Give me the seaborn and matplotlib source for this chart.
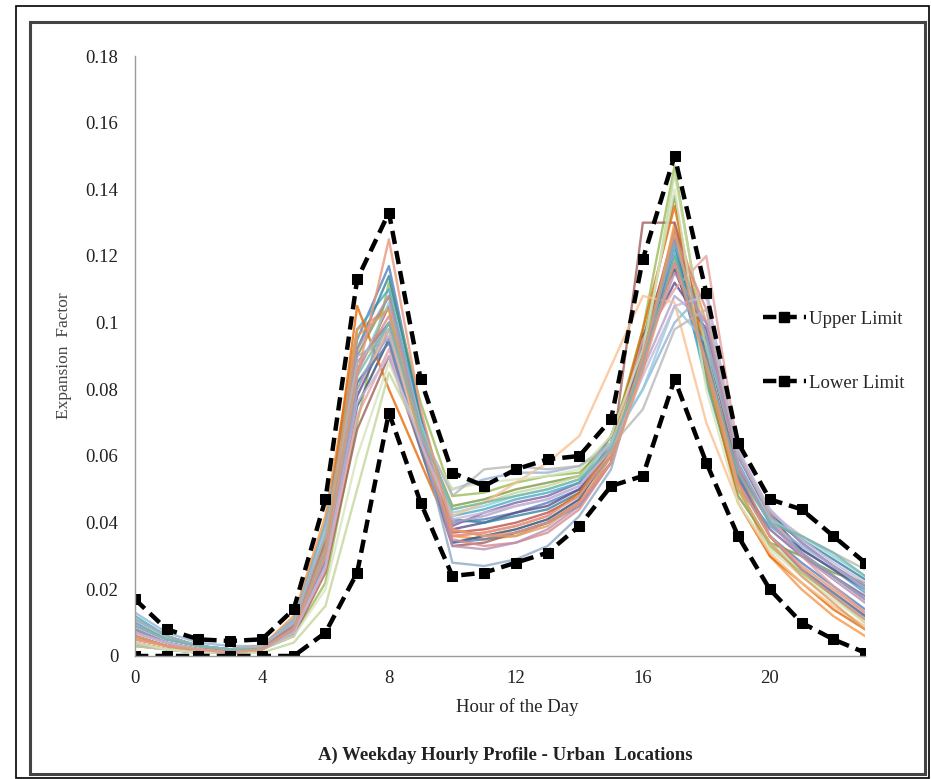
import pandas as pd
import matplotlib.pyplot as plt
import seaborn as sns
from matplotlib.patches import Rectangle
from matplotlib.lines import Line2D

hours = list(range(24))

upper_limit = [0.017, 0.008, 0.005, 0.0045, 0.005, 0.014, 0.047, 0.113, 0.133, 0.083, 0.055, 0.051,
               0.056, 0.059, 0.060, 0.071, 0.119, 0.150, 0.109, 0.064, 0.047, 0.044, 0.036, 0.028]
lower_limit = [0.0, 0.0, 0.0, 0.0, 0.0, 0.0, 0.007, 0.025, 0.073, 0.046, 0.024, 0.025,
               0.028, 0.031, 0.039, 0.051, 0.054, 0.083, 0.058, 0.036, 0.020, 0.010, 0.005, 0.001]

# hourly expansion factors for each urban count site
site_01 = [0.010, 0.005, 0.003, 0.002, 0.003, 0.010, 0.036, 0.095, 0.117, 0.072, 0.040, 0.041, 0.043, 0.046, 0.050, 0.062, 0.095, 0.125, 0.088, 0.052, 0.036, 0.028, 0.021, 0.014]
site_02 = [0.007, 0.004, 0.002, 0.002, 0.002, 0.008, 0.030, 0.085, 0.105, 0.070, 0.037, 0.038, 0.040, 0.043, 0.048, 0.060, 0.092, 0.128, 0.094, 0.056, 0.040, 0.031, 0.024, 0.017]
site_03 = [0.005, 0.003, 0.001, 0.001, 0.002, 0.006, 0.022, 0.070, 0.112, 0.076, 0.048, 0.049, 0.052, 0.054, 0.055, 0.064, 0.098, 0.147, 0.090, 0.050, 0.033, 0.025, 0.018, 0.010]
site_04 = [0.009, 0.005, 0.003, 0.002, 0.003, 0.009, 0.033, 0.088, 0.100, 0.068, 0.039, 0.043, 0.046, 0.048, 0.052, 0.066, 0.090, 0.118, 0.085, 0.053, 0.038, 0.030, 0.024, 0.018]
site_05 = [0.012, 0.006, 0.003, 0.002, 0.003, 0.011, 0.040, 0.098, 0.110, 0.070, 0.042, 0.044, 0.047, 0.049, 0.052, 0.063, 0.088, 0.122, 0.082, 0.050, 0.039, 0.032, 0.026, 0.019]
site_06 = [0.006, 0.003, 0.002, 0.002, 0.003, 0.012, 0.042, 0.098, 0.104, 0.064, 0.036, 0.035, 0.036, 0.040, 0.046, 0.058, 0.085, 0.130, 0.100, 0.052, 0.030, 0.020, 0.012, 0.006]
site_07 = [0.004, 0.002, 0.001, 0.001, 0.002, 0.007, 0.028, 0.075, 0.095, 0.066, 0.034, 0.036, 0.038, 0.041, 0.047, 0.062, 0.096, 0.116, 0.092, 0.060, 0.043, 0.034, 0.027, 0.021]
site_08 = [0.003, 0.002, 0.001, 0.001, 0.002, 0.006, 0.025, 0.068, 0.090, 0.062, 0.033, 0.034, 0.037, 0.040, 0.046, 0.058, 0.130, 0.130, 0.095, 0.055, 0.036, 0.026, 0.019, 0.012]
site_09 = [0.008, 0.004, 0.002, 0.001, 0.002, 0.008, 0.030, 0.090, 0.108, 0.068, 0.045, 0.047, 0.050, 0.052, 0.054, 0.066, 0.094, 0.138, 0.084, 0.048, 0.034, 0.030, 0.025, 0.022]
site_10 = [0.006, 0.003, 0.002, 0.001, 0.002, 0.007, 0.028, 0.078, 0.098, 0.067, 0.038, 0.040, 0.043, 0.045, 0.050, 0.064, 0.093, 0.112, 0.098, 0.060, 0.042, 0.032, 0.026, 0.020]
site_11 = [0.011, 0.006, 0.003, 0.002, 0.002, 0.009, 0.035, 0.092, 0.114, 0.072, 0.041, 0.040, 0.042, 0.044, 0.049, 0.060, 0.090, 0.124, 0.086, 0.056, 0.041, 0.035, 0.029, 0.023]
site_12 = [0.005, 0.003, 0.002, 0.001, 0.002, 0.009, 0.034, 0.105, 0.080, 0.058, 0.036, 0.037, 0.039, 0.042, 0.049, 0.062, 0.098, 0.135, 0.088, 0.046, 0.030, 0.022, 0.014, 0.008]
site_13 = [0.013, 0.007, 0.004, 0.003, 0.003, 0.011, 0.038, 0.090, 0.095, 0.065, 0.050, 0.053, 0.055, 0.055, 0.057, 0.064, 0.080, 0.100, 0.110, 0.058, 0.040, 0.033, 0.027, 0.020]
site_14 = [0.004, 0.002, 0.001, 0.001, 0.002, 0.007, 0.026, 0.072, 0.092, 0.064, 0.036, 0.037, 0.039, 0.042, 0.048, 0.061, 0.095, 0.110, 0.120, 0.062, 0.042, 0.030, 0.021, 0.013]
site_15 = [0.003, 0.002, 0.001, 0.001, 0.001, 0.004, 0.015, 0.050, 0.085, 0.066, 0.044, 0.046, 0.049, 0.051, 0.054, 0.064, 0.088, 0.145, 0.092, 0.050, 0.034, 0.026, 0.019, 0.011]
site_16 = [0.007, 0.004, 0.002, 0.002, 0.002, 0.008, 0.030, 0.082, 0.096, 0.066, 0.040, 0.042, 0.045, 0.047, 0.051, 0.063, 0.086, 0.108, 0.100, 0.061, 0.044, 0.034, 0.027, 0.021]
site_17 = [0.009, 0.005, 0.003, 0.002, 0.002, 0.008, 0.032, 0.085, 0.106, 0.070, 0.043, 0.045, 0.048, 0.050, 0.053, 0.064, 0.080, 0.105, 0.094, 0.058, 0.041, 0.036, 0.030, 0.024]
site_18 = [0.005, 0.003, 0.002, 0.001, 0.002, 0.008, 0.030, 0.080, 0.098, 0.064, 0.042, 0.046, 0.052, 0.058, 0.066, 0.087, 0.108, 0.106, 0.070, 0.046, 0.031, 0.022, 0.015, 0.009]
site_19 = [0.008, 0.004, 0.002, 0.002, 0.002, 0.008, 0.030, 0.082, 0.094, 0.062, 0.034, 0.035, 0.037, 0.040, 0.045, 0.058, 0.092, 0.120, 0.090, 0.054, 0.036, 0.026, 0.019, 0.012]
site_20 = [0.006, 0.003, 0.002, 0.001, 0.002, 0.008, 0.030, 0.086, 0.102, 0.068, 0.035, 0.033, 0.034, 0.037, 0.044, 0.058, 0.088, 0.126, 0.104, 0.056, 0.036, 0.026, 0.018, 0.011]
site_21 = [0.004, 0.002, 0.001, 0.001, 0.002, 0.006, 0.020, 0.060, 0.088, 0.066, 0.050, 0.052, 0.053, 0.054, 0.056, 0.066, 0.092, 0.140, 0.080, 0.046, 0.032, 0.024, 0.017, 0.010]
site_22 = [0.010, 0.005, 0.003, 0.002, 0.002, 0.007, 0.028, 0.080, 0.100, 0.066, 0.028, 0.027, 0.029, 0.033, 0.042, 0.056, 0.090, 0.124, 0.096, 0.058, 0.040, 0.031, 0.024, 0.017]
site_23 = [0.008, 0.004, 0.002, 0.002, 0.002, 0.009, 0.033, 0.092, 0.108, 0.068, 0.033, 0.032, 0.034, 0.038, 0.045, 0.060, 0.089, 0.115, 0.100, 0.057, 0.040, 0.030, 0.023, 0.016]
site_24 = [0.011, 0.006, 0.003, 0.002, 0.003, 0.010, 0.036, 0.088, 0.098, 0.068, 0.048, 0.056, 0.057, 0.056, 0.057, 0.063, 0.074, 0.098, 0.104, 0.060, 0.043, 0.036, 0.031, 0.026]
site_25 = [0.006, 0.003, 0.002, 0.001, 0.002, 0.008, 0.032, 0.096, 0.104, 0.064, 0.038, 0.036, 0.036, 0.039, 0.046, 0.060, 0.090, 0.128, 0.086, 0.050, 0.034, 0.024, 0.016, 0.008]
site_26 = [0.007, 0.004, 0.002, 0.001, 0.002, 0.007, 0.027, 0.076, 0.090, 0.064, 0.041, 0.043, 0.045, 0.047, 0.051, 0.062, 0.084, 0.105, 0.108, 0.062, 0.044, 0.035, 0.028, 0.022]
site_27 = [0.009, 0.005, 0.003, 0.002, 0.002, 0.008, 0.031, 0.084, 0.100, 0.068, 0.044, 0.046, 0.048, 0.050, 0.053, 0.062, 0.087, 0.120, 0.088, 0.055, 0.040, 0.036, 0.031, 0.024]
site_28 = [0.005, 0.003, 0.002, 0.001, 0.002, 0.008, 0.030, 0.084, 0.125, 0.074, 0.038, 0.036, 0.037, 0.040, 0.046, 0.058, 0.086, 0.118, 0.088, 0.052, 0.036, 0.027, 0.020, 0.013]

sites = [site_01, site_02, site_03, site_04, site_05, site_06, site_07, site_08, site_09, site_10,
         site_11, site_12, site_13, site_14, site_15, site_16, site_17, site_18, site_19, site_20,
         site_21, site_22, site_23, site_24, site_25, site_26, site_27, site_28]

# Excel-like series colours
site_colors = ['#4F81BD', '#C0504D', '#9BBB59', '#8064A2', '#4BACC6', '#F79646',
               '#2C4D75', '#A0605A', '#7F9A48', '#5F4B8B', '#31859C', '#E46C0A',
               '#95B3D7', '#E6A09E', '#C3D69B', '#B3A2C7', '#93CDDD', '#FAC090',
               '#5A7FB5', '#D98A88', '#D7E4BD', '#8EA9C9', '#B78FB5', '#B8B8B8',
               '#D9A066', '#C7B8DD', '#78B8A8', '#E9967A']

long_rows = []
for i, vals in enumerate(sites):
    for h, v in zip(hours, vals):
        long_rows.append({'site': f'S{i + 1:02d}', 'hour': h, 'factor': v})
df = pd.DataFrame(long_rows)

limits = pd.DataFrame({'hour': hours + hours,
                       'factor': upper_limit + lower_limit,
                       'limit': ['Upper Limit'] * 24 + ['Lower Limit'] * 24})

sns.set_style('white')
plt.rcParams['font.family'] = ['Liberation Serif', 'DejaVu Serif']

fig = plt.figure(figsize=(9.31, 7.79), dpi=100)
ax = fig.add_axes([135 / 931, 1 - 656 / 779, (865 - 135) / 931, (656 - 56) / 779])

sns.lineplot(data=df, x='hour', y='factor', hue='site', palette=site_colors,
             linewidth=1.7, alpha=0.8, legend=False, ax=ax)

dash_kw = dict(color='black', linewidth=3.2, linestyle=(0, (3, 1.6)),
               marker='s', markersize=7.5, markeredgecolor='black')
for name, grp in limits.groupby('limit', sort=False):
    sns.lineplot(data=grp, x='hour', y='factor', ax=ax, legend=False, **dash_kw)

ax.set_xlim(0, 23)
ax.set_ylim(0, 0.18)
ax.set_xticks(range(0, 24))
ax.set_xticklabels([str(h) if h % 4 == 0 else '' for h in range(24)])
ax.set_yticks([0, 0.02, 0.04, 0.06, 0.08, 0.1, 0.12, 0.14, 0.16, 0.18])
ax.set_yticklabels(['0', '0.02', '0.04', '0.06', '0.08', '0.1', '0.12', '0.14', '0.16', '0.18'])

for side in ['top', 'right']:
    ax.spines[side].set_visible(False)
for side in ['left', 'bottom']:
    ax.spines[side].set_color('#9A9A9A')
    ax.spines[side].set_linewidth(1.0)
ax.tick_params(axis='both', direction='out', length=5, width=1, color='#9A9A9A',
               labelsize=13.5, labelcolor='#222222', pad=7)
ax.tick_params(axis='x', pad=5)

ax.set_xlabel('Hour of the Day', fontsize=13.5, color='#222222', labelpad=4)
ax.xaxis.set_label_coords((517 - 135) / 730, -0.07)
ax.set_ylabel('Expansion  Factor', fontsize=12.5, color='#444444', labelpad=10)

legend_handles = [Line2D([0], [0], **dash_kw) for _ in range(2)]
fig.legend(legend_handles, ['Upper Limit', 'Lower Limit'], loc='center left',
           bbox_to_anchor=(746 / 931, 1 - 351 / 779), frameon=False, fontsize=13.5,
           handlelength=2.3, handletextpad=0.15, labelspacing=2.5, numpoints=1)

fig.text(505 / 931, 1 - 755 / 779, 'A) Weekday Hourly Profile - Urban  Locations',
         ha='center', va='center', fontsize=13.5, fontweight='bold', color='#222222')

# outer and inner frame of the figure
fig.patches.append(Rectangle((16 / 931, 1 - 778 / 779), (929 - 16) / 931, (778 - 6) / 779,
                             transform=fig.transFigure, fill=False, edgecolor='black', linewidth=1.2))
fig.patches.append(Rectangle((30 / 931, 1 - 774 / 779), (925 - 30) / 931, (774 - 22) / 779,
                             transform=fig.transFigure, fill=False, edgecolor='#444444', linewidth=2.2))

plt.savefig('out.png', dpi=100)
plt.close()
